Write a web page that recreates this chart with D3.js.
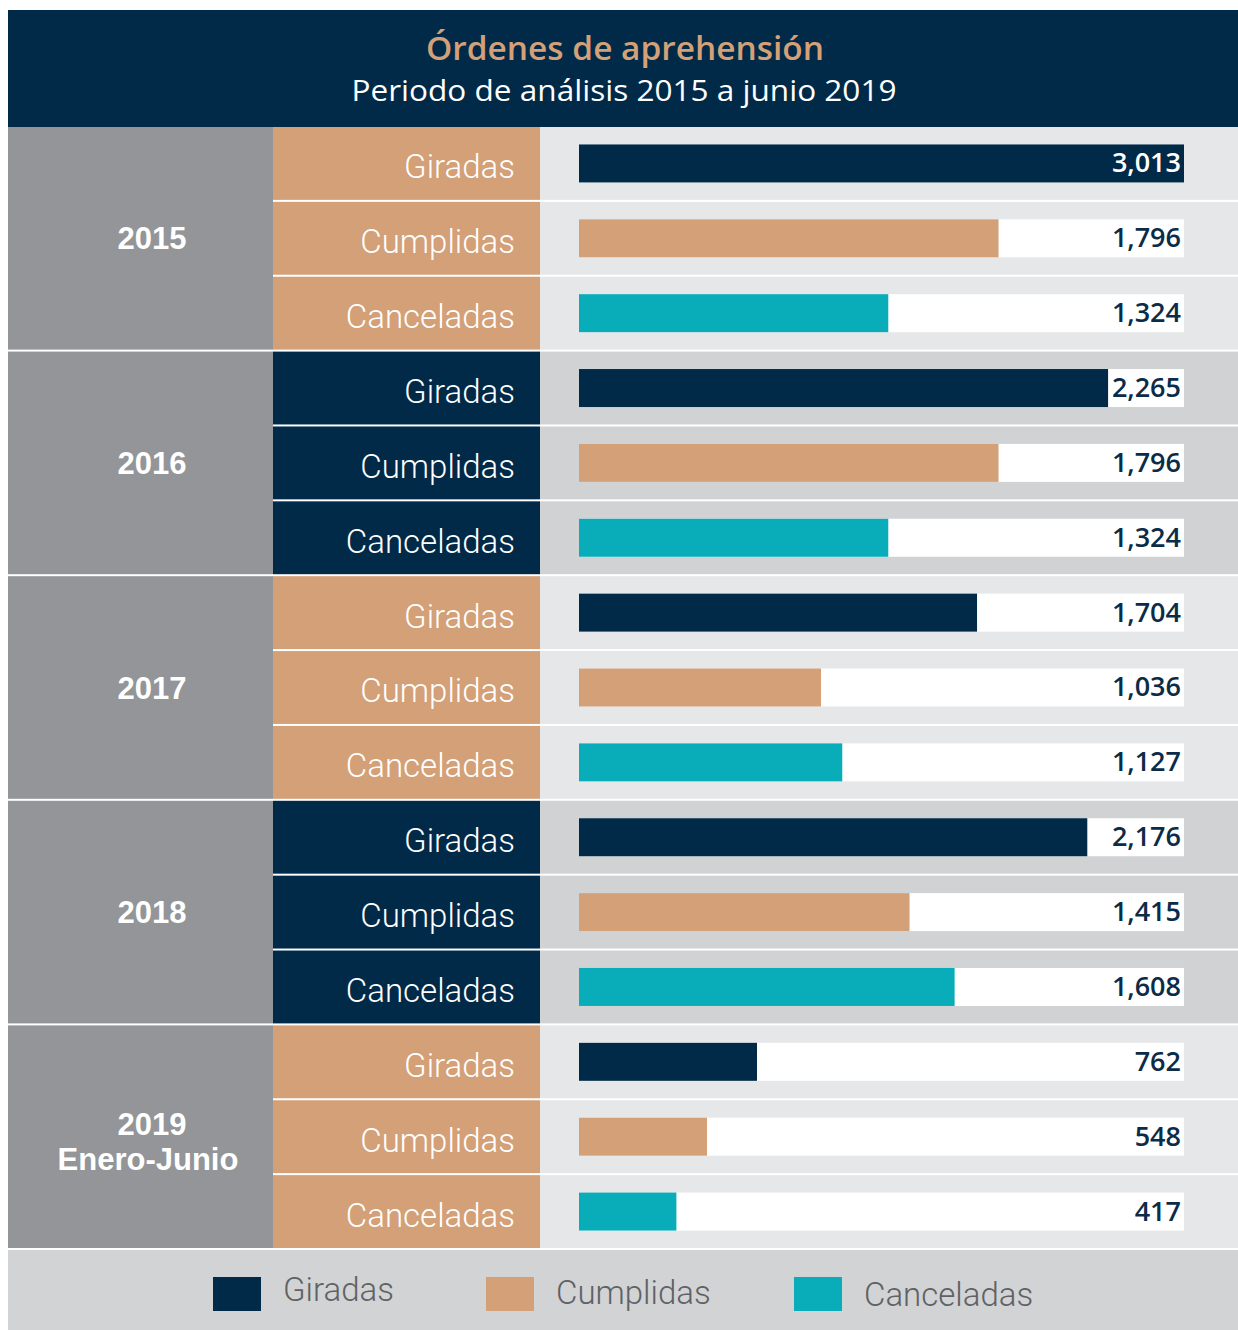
<!DOCTYPE html>
<html>
<head>
<meta charset="utf-8">
<script src="https://cdn.jsdelivr.net/npm/d3@7"></script>
<style>
  html, body { margin: 0; padding: 0; background: #ffffff; }
  svg { display: block; }
</style>
</head>
<body>
<div id="chart"></div>
<script>
// ---- Data ----
const years = ["2015", "2016", "2017", "2018", "2019"];
const yearLabels = [["2015"], ["2016"], ["2017"], ["2018"], ["2019", "Enero-Junio"]];
const categories = ["Giradas", "Cumplidas", "Canceladas"];
const giradas = [3013, 2265, 1704, 2176, 762];
const cumplidas = [1796, 1796, 1036, 1415, 548];
const canceladas = [1324, 1324, 1127, 1608, 417];
const titleText = "Órdenes de aprehensión";
const subtitleText = "Periodo de análisis 2015 a junio 2019";
const scaleMax = 2590; // bars are clipped at the end of the track

// ---- Styles ----
const W = 1238, H = 1330;
const C = {
  navy: "#002a48",
  tan: "#d3a077",
  teal: "#09adb9",
  yearGray: "#939598",
  light: "#e6e7e8",
  dark: "#d1d2d4",
  legendBg: "#d1d3d4",
  legendText: "#606164",
  valueText: "#0b2c48"
};
const seriesColor = { Giradas: C.navy, Cumplidas: C.tan, Canceladas: C.teal };
const seriesValues = { Giradas: giradas, Cumplidas: cumplidas, Canceladas: canceladas };

const left = 8, right = 1238;
const yearX1 = 273, labelX1 = 540;
const trackX0 = 579, trackX1 = 1184;
const bodyTop = 127, bodyBottom = 1250;
const barH = 38;
const lightFont = "Roboto, Liberation Sans, Arial, sans-serif";

const svg = d3.select("#chart").append("svg")
  .attr("width", W).attr("height", H);

// Header
svg.append("rect").attr("x", left).attr("y", 10).attr("width", right - left).attr("height", bodyTop - 10)
  .attr("fill", C.navy);
svg.append("text").attr("x", 625).attr("y", 60).attr("text-anchor", "middle")
  .attr("font-family", "Open Sans, sans-serif").attr("font-weight", 600).attr("font-size", 32)
  .attr("fill", C.tan).attr("textLength", 398).attr("lengthAdjust", "spacingAndGlyphs")
  .text(titleText);
svg.append("text").attr("x", 624).attr("y", 101).attr("text-anchor", "middle")
  .attr("font-family", "Open Sans, sans-serif").attr("font-weight", 400).attr("font-size", 29)
  .attr("fill", "#ffffff").attr("textLength", 545).attr("lengthAdjust", "spacingAndGlyphs")
  .text(subtitleText);

// Scales
const yGroup = d3.scaleBand().domain(years).range([bodyTop, bodyBottom]);
const yRow = d3.scaleBand().domain(categories).range([0, yGroup.bandwidth()]);
const x = d3.scaleLinear().domain([0, scaleMax]).range([trackX0, trackX1]).clamp(true);

const rows = [];
years.forEach((yr, gi) => {
  categories.forEach(cat => {
    rows.push({ year: yr, gi, cat, value: seriesValues[cat][gi] });
  });
});

const gap = 2;

// Year column
const groups = svg.append("g").selectAll("g").data(years).join("g");
groups.append("rect")
  .attr("x", left).attr("y", d => yGroup(d))
  .attr("width", yearX1 - left).attr("height", yGroup.bandwidth() - gap)
  .attr("fill", C.yearGray);
groups.each(function(d, i) {
  const lines = yearLabels[i];
  const cy = yGroup(d) + (yGroup.bandwidth() - gap) / 2;
  const t = d3.select(this).append("text")
    .attr("text-anchor", "middle")
    .attr("font-family", "Liberation Sans, Arial, sans-serif").attr("font-weight", 700)
    .attr("font-size", 31).attr("fill", "#ffffff");
  if (lines.length === 1) {
    t.append("tspan").attr("x", 152).attr("y", cy + 11).text(lines[0]);
  } else {
    t.append("tspan").attr("x", 152).attr("y", cy - 2).text(lines[0]);
    t.append("tspan").attr("x", 148).attr("y", cy + 33).text(lines[1]);
  }
});

// Row cells
const rowG = svg.append("g").selectAll("g").data(rows).join("g")
  .attr("transform", d => `translate(0,${yGroup(d.year) + yRow(d.cat)})`);
const rowH = yRow.bandwidth() - gap;

rowG.append("rect")
  .attr("x", yearX1).attr("y", 0).attr("width", labelX1 - yearX1).attr("height", rowH)
  .attr("fill", d => d.gi % 2 === 0 ? C.tan : C.navy);
rowG.append("rect")
  .attr("x", labelX1).attr("y", 0).attr("width", right - labelX1).attr("height", rowH)
  .attr("fill", d => d.gi % 2 === 0 ? C.light : C.dark);
rowG.append("text")
  .attr("x", 515).attr("y", rowH / 2 + 15).attr("text-anchor", "end")
  .attr("font-family", lightFont).attr("font-weight", 300)
  .attr("font-size", 33).attr("fill", "#ffffff")
  .text(d => d.cat);

// Track + bars
rowG.append("rect")
  .attr("x", trackX0).attr("y", rowH / 2 - barH / 2)
  .attr("width", trackX1 - trackX0).attr("height", barH)
  .attr("fill", "#ffffff");
rowG.append("rect")
  .attr("x", x(0)).attr("y", rowH / 2 - barH / 2)
  .attr("width", d => x(d.value) - x(0)).attr("height", barH)
  .attr("fill", d => seriesColor[d.cat]);
rowG.append("text")
  .attr("x", 1181).attr("y", rowH / 2 + 9).attr("text-anchor", "end")
  .attr("font-family", "Open Sans, sans-serif").attr("font-weight", 600)
  .attr("font-size", 27)
  .attr("fill", d => x(d.value) >= trackX1 - 2 ? "#ffffff" : C.valueText)
  .text(d => d3.format(",")(d.value));

// Legend
svg.append("rect").attr("x", left).attr("y", bodyBottom).attr("width", right - left).attr("height", H - bodyBottom)
  .attr("fill", C.legendBg);
const legendX = [213, 486, 794];
const legendBase = [24, 27, 29];
const lg = svg.append("g").selectAll("g").data(categories).join("g")
  .attr("transform", (d, i) => `translate(${legendX[i]},1277)`);
lg.append("rect").attr("width", 48).attr("height", 34).attr("fill", d => seriesColor[d]);
lg.append("text").attr("x", 70).attr("y", (d, i) => legendBase[i])
  .attr("font-family", lightFont).attr("font-weight", 300)
  .attr("font-size", 33).attr("fill", C.legendText)
  .text(d => d);
</script>
</body>
</html>
